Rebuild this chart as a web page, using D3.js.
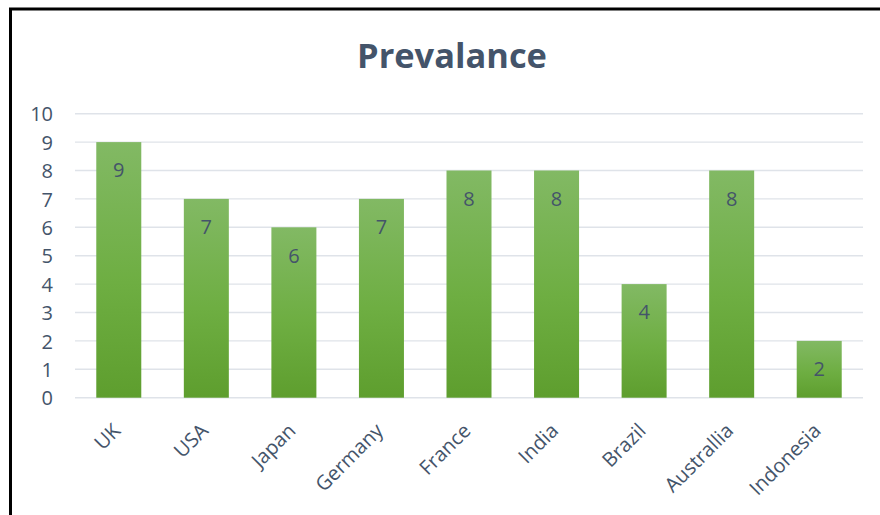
<!DOCTYPE html>
<html>
<head>
<meta charset="utf-8">
<script src="https://cdn.jsdelivr.net/npm/d3@7"></script>
<style>
  html, body { margin: 0; padding: 0; background: #fff; }
  svg { display: block; }
  text { font-family: "Open Sans", "Noto Sans", sans-serif; fill: #44546a; }
</style>
</head>
<body>
<script>
// Prevalence by country
const categories = ["UK", "USA", "Japan", "Germany", "France", "India", "Brazil", "Australlia", "Indonesia"];
const values = [9, 7, 6, 7, 8, 8, 4, 8, 2];
const yTicks = [0, 1, 2, 3, 4, 5, 6, 7, 8, 9, 10];
const title = "Prevalance";

const W = 880, H = 515;
const svg = d3.select("body").append("svg").attr("width", W).attr("height", H);

// bar fill gradient
const defs = svg.append("defs");
const grad = defs.append("linearGradient").attr("id", "barGrad")
  .attr("x1", 0).attr("y1", 0).attr("x2", 0).attr("y2", 1);
grad.append("stop").attr("offset", "0%").attr("stop-color", "#82b964");
grad.append("stop").attr("offset", "55%").attr("stop-color", "#6eae42");
grad.append("stop").attr("offset", "100%").attr("stop-color", "#5e9e2e");

// chart frame
svg.append("rect")
  .attr("x", 10.5).attr("y", 9).attr("width", W + 20).attr("height", H + 20)
  .attr("fill", "none").attr("stroke", "#000").attr("stroke-width", 3);

const x = d3.scaleBand().domain(categories).range([75, 863]).paddingInner(0.486).paddingOuter(0.243);
const y = d3.scaleLinear().domain([0, 10]).range([397.7, 113.7]);

// gridlines
svg.append("g").selectAll("line").data(yTicks).join("line")
  .attr("x1", 75).attr("x2", 863)
  .attr("y1", d => y(d)).attr("y2", d => y(d))
  .attr("stroke", "#dfe3e9").attr("stroke-width", 1.4);

// y axis labels
const yAxis = d3.axisLeft(y).tickValues(yTicks).tickSize(0).tickPadding(0).tickFormat(d3.format("d"));
const yg = svg.append("g").attr("transform", "translate(53,0)").call(yAxis);
yg.select(".domain").remove();
yg.selectAll("text").style("font-size", "20px").attr("fill", "#44546a")
  .style("font-family", "'Open Sans', sans-serif").attr("dy", "0.36em");

// bars
svg.append("g").selectAll("rect").data(values).join("rect")
  .attr("x", (d, i) => x(categories[i]))
  .attr("width", x.bandwidth())
  .attr("y", d => y(d))
  .attr("height", d => y(0) - y(d))
  .attr("fill", "url(#barGrad)");

// value labels
svg.append("g").selectAll("text").data(values).join("text")
  .attr("x", (d, i) => x(categories[i]) + x.bandwidth() / 2)
  .attr("y", d => y(d) + 28)
  .attr("dy", "0.36em")
  .attr("text-anchor", "middle")
  .style("font-size", "20px")
  .text(d => d);

// x axis labels (rotated)
const xAxis = d3.axisBottom(x).tickSize(0).tickPadding(0);
const xg = svg.append("g").attr("transform", "translate(0,398)").call(xAxis);
xg.select(".domain").remove();
xg.selectAll("text")
  .style("font-size", "20px").attr("fill", "#44546a")
  .style("font-family", "'Open Sans', sans-serif")
  .attr("text-anchor", "end")
  .attr("dy", "0")
  .attr("transform", "translate(3,34) rotate(-45)");

// title, sized to its measured width
const t = svg.append("text")
  .attr("x", 452).attr("y", 68)
  .attr("text-anchor", "middle")
  .style("font-weight", "bold")
  .style("font-size", "36px")
  .text(title);
const tw = t.node().getComputedTextLength();
t.style("font-size", (36 * 190 / tw) + "px");
</script>
</body>
</html>
